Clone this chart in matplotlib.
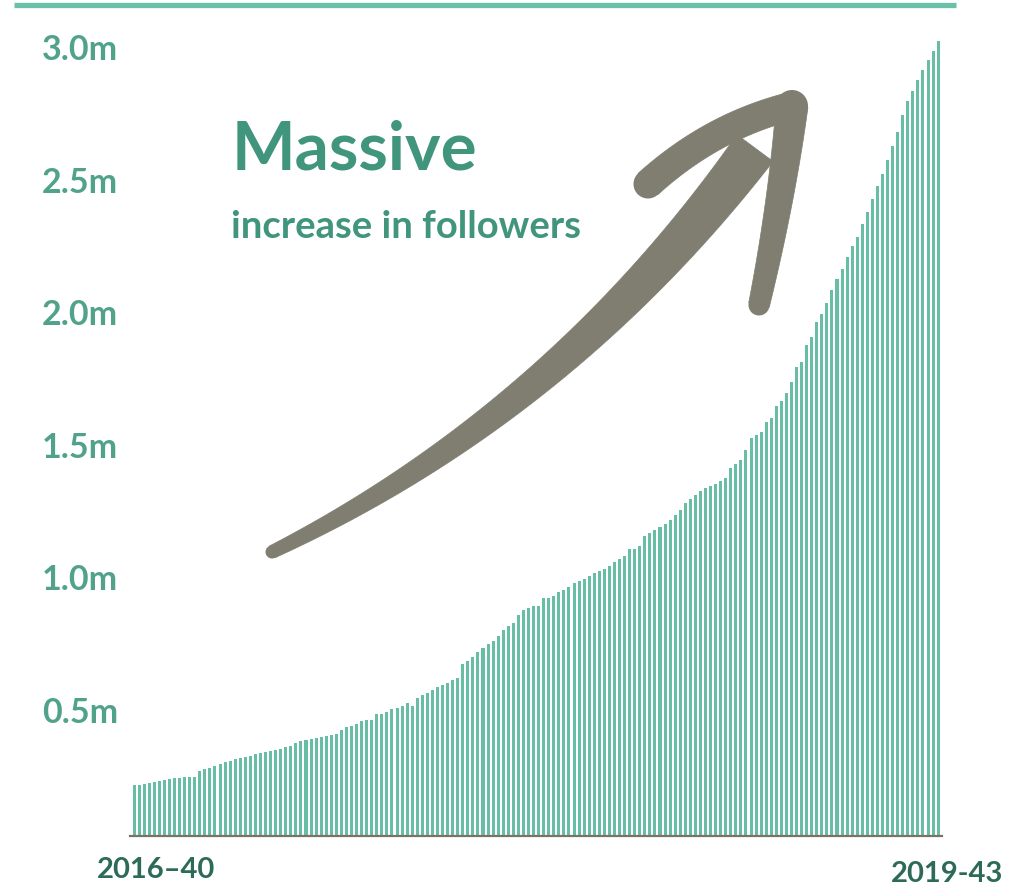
import numpy as np
import matplotlib
matplotlib.use("Agg")
import matplotlib.pyplot as plt
from matplotlib.patches import Polygon, Circle
from matplotlib.lines import Line2D

# Weekly follower totals (millions), week 2016-40 through 2019-43
followers_m = [
    0.192, 0.194, 0.196, 0.200, 0.204, 0.207, 0.211, 0.215, 0.217, 0.217,
    0.222, 0.224, 0.224, 0.245, 0.253, 0.256, 0.264, 0.271, 0.278, 0.283,
    0.289, 0.294, 0.299, 0.303, 0.309, 0.313, 0.317, 0.320, 0.324, 0.329,
    0.334, 0.339, 0.349, 0.358, 0.362, 0.366, 0.368, 0.372, 0.376, 0.381,
    0.386, 0.398, 0.410, 0.416, 0.424, 0.432, 0.437, 0.437, 0.460, 0.460,
    0.469, 0.478, 0.484, 0.491, 0.502, 0.491, 0.522, 0.532, 0.540, 0.551,
    0.562, 0.571, 0.578, 0.587, 0.595, 0.647, 0.661, 0.676, 0.693, 0.708,
    0.723, 0.737, 0.753, 0.777, 0.792, 0.803, 0.833, 0.851, 0.858, 0.867,
    0.867, 0.896, 0.896, 0.906, 0.919, 0.928, 0.940, 0.953, 0.962, 0.970,
    0.982, 0.991, 0.998, 1.008, 1.019, 1.033, 1.043, 1.055, 1.081, 1.081,
    1.095, 1.131, 1.141, 1.153, 1.165, 1.178, 1.190, 1.212, 1.229, 1.254,
    1.270, 1.285, 1.301, 1.311, 1.321, 1.328, 1.339, 1.350, 1.386, 1.403,
    1.417, 1.456, 1.502, 1.512, 1.523, 1.560, 1.575, 1.623, 1.639, 1.672,
    1.711, 1.770, 1.786, 1.853, 1.883, 1.937, 1.970, 2.011, 2.058, 2.100,
    2.137, 2.183, 2.224, 2.259, 2.307, 2.353, 2.401, 2.452, 2.495, 2.548,
    2.602, 2.656, 2.719, 2.772, 2.809, 2.851, 2.888, 2.925, 2.959, 2.997,
]
y_ticks = [0.5, 1.0, 1.5, 2.0, 2.5, 3.0]
y_tick_labels = ["0.5m", "1.0m", "1.5m", "2.0m", "2.5m", "3.0m"]
first_week = "2016\u201340"
last_week = "2019-43"
headline = "Massive"
subline = "increase in followers"

BAR = "#67bea5"
TICK = "#51a28b"
HEAD = "#40957c"
WEEK = "#2e6a58"
ARROW = "#7f7e70"
AXIS = "#7a7465"
FONT = "Lato"

W, H = 1022, 885
fig = plt.figure(figsize=(W / 100, H / 100), dpi=100)

# ---- bar axes (pixel geometry converted to figure fractions) ----
x0_px, x1_px = 130, 942.2
base_px, top_px = 836, 14
ax = fig.add_axes([x0_px / W, (H - base_px) / H, (x1_px - x0_px) / W, (base_px - top_px) / H])
n = len(followers_m)
x = np.arange(n)
ax.bar(x, followers_m, width=0.6, color=BAR, linewidth=0)
ax.set_xlim(-0.8, n - 0.2)
ax.set_ylim(0, 3.1)
for s in ("top", "right", "left"):
    ax.spines[s].set_visible(False)
ax.spines["bottom"].set_color(AXIS)
ax.spines["bottom"].set_linewidth(1.6)
ax.set_xticks([])
ax.set_yticks([])
ax.patch.set_alpha(0)

# ---- overlay in pixel coordinates for annotations ----
ov = fig.add_axes([0, 0, 1, 1], zorder=3)
ov.set_xlim(0, W)
ov.set_ylim(H, 0)
ov.axis("off")
ov.patch.set_alpha(0)

# top rule
ov.add_line(Line2D([14, 956], [4.5, 4.5], color="#6cbfa8", lw=3.8, solid_capstyle="butt"))

# y tick labels, positioned from the data scale
px_per_m = (base_px - top_px) / 3.1
for v, lab in zip(y_ticks, y_tick_labels):
    yb = base_px - v * px_per_m + 19.5
    ov.text(42, yb, lab, fontsize=24.5, fontweight="bold", color=TICK,
            family=FONT, ha="left", va="baseline")

ov.text(97, 878, first_week, fontsize=21, fontweight="bold", color=WEEK,
        family=FONT, ha="left", va="baseline")
ov.text(891, 881.5, last_week, fontsize=21, fontweight="bold", color=WEEK,
        family=FONT, ha="left", va="baseline")

ov.text(232, 170, headline, fontsize=48.5, fontweight="bold", color=HEAD,
        family=FONT, ha="left", va="baseline")
ov.text(231, 238, subline, fontsize=27.5, fontweight="bold", color=HEAD,
        family=FONT, ha="left", va="baseline")


# ---- hand-drawn style arrow ----
def bezier(p0, p1, p2, t):
    t = t[:, None]
    return (1 - t) ** 2 * p0 + 2 * (1 - t) * t * p1 + t ** 2 * p2


def stroke(p0, p1, p2, w0, w1, cap0=True, cap1=True):
    p0, p1, p2 = map(np.asarray, (p0, p1, p2))
    t = np.linspace(0, 1, 80)
    pts = bezier(p0, p1, p2, t)
    d = np.gradient(pts, axis=0)
    d /= np.linalg.norm(d, axis=1)[:, None]
    nrm = np.stack([-d[:, 1], d[:, 0]], axis=1)
    w = (w0 + (w1 - w0) * t)[:, None] / 2
    poly = np.vstack([pts + nrm * w, (pts - nrm * w)[::-1]])
    ov.add_patch(Polygon(poly, closed=True, fc=ARROW, ec=ARROW, lw=0.5))
    if cap0:
        ov.add_patch(Circle(pts[0], w0 / 2, fc=ARROW, ec="none"))
    if cap1:
        ov.add_patch(Circle(pts[-1], w1 / 2, fc=ARROW, ec="none"))


stroke((272, 552), (560, 412), (755, 148), 13, 45, cap1=False)
stroke((648, 184), (712, 126), (792, 106), 29, 28)
stroke((792, 106), (782, 200), (759, 305), 32, 21)

fig.savefig("out.png", dpi=100)
